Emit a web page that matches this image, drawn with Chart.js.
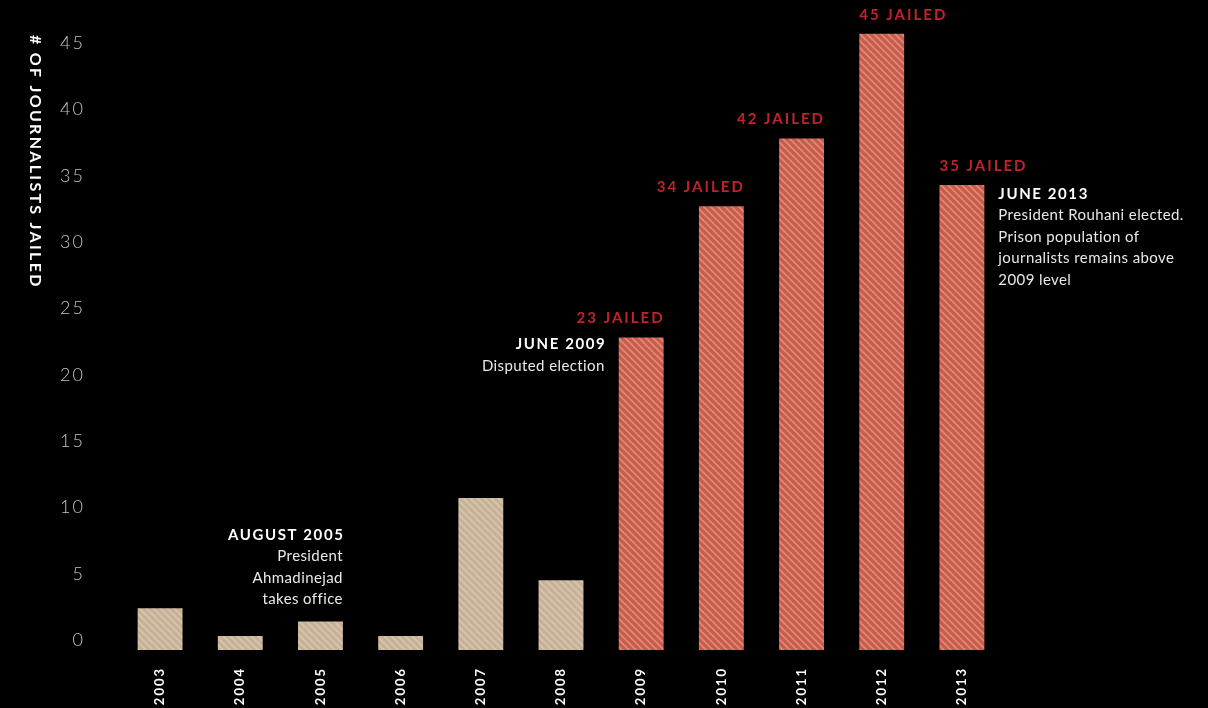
<!DOCTYPE html>
<html>
<head>
<meta charset="utf-8">
<script src="https://cdn.jsdelivr.net/npm/chart.js@4.4.1/dist/chart.umd.min.js"></script>
<style>
  html, body { margin: 0; padding: 0; background: #000; }
  #wrap { width: 1208px; height: 708px; position: relative; }
</style>
</head>
<body>
<div id="wrap"><canvas id="c" width="1208" height="708"></canvas></div>
<script>
// ---- data ----
const years = ['2003','2004','2005','2006','2007','2008','2009','2010','2011','2012','2013'];
const jailed = [2.4, 0.3, 1.4, 0.3, 10.7, 4.5, 22.8, 32.7, 37.8, 45.7, 34.3];
const era = ['before','before','before','before','before','before','after','after','after','after','after'];
const jailedLabels = [null, null, null, null, null, null, '23 JAILED', '34 JAILED', '42 JAILED', '45 JAILED', '35 JAILED'];
const yTicks = [0, 5, 10, 15, 20, 25, 30, 35, 40, 45];
const yTitle = '# OF JOURNALISTS JAILED';
const noteYears = ['2005', '2009', '2013'];
const noteTitles = ['AUGUST 2005', 'JUNE 2009', 'JUNE 2013'];
const noteLines = [
  ['President', 'Ahmadinejad', 'takes office'],
  ['Disputed election'],
  ['President Rouhani elected.', 'Prison population of', 'journalists remains above', '2009 level']
];

// ---- styles ----
const FONT = 'Lato, "Open Sans", sans-serif';
function makePattern(base, stripe) {
  const s = 7;
  const c = document.createElement('canvas');
  c.width = s; c.height = s;
  const g = c.getContext('2d');
  g.fillStyle = base; g.fillRect(0, 0, s, s);
  g.strokeStyle = stripe; g.lineWidth = 1.6;
  g.beginPath();
  g.moveTo(-1, -1); g.lineTo(s + 1, s + 1);
  g.moveTo(-1, s - 1); g.lineTo(1, s + 1);
  g.moveTo(s - 1, -1); g.lineTo(s + 1, 1);
  g.stroke();
  return document.getElementById('c').getContext('2d').createPattern(c, 'repeat');
}
const tanPattern = makePattern('#c7b197', '#d8c6b0');
const redPattern = makePattern('#c75e4c', '#e2897a');
const barColors = era.map(e => e === 'before' ? tanPattern : redPattern);

const bgPlugin = {
  id: 'bg',
  beforeDraw(chart) {
    const ctx = chart.ctx;
    ctx.save();
    ctx.fillStyle = '#000';
    ctx.fillRect(0, 0, chart.width, chart.height);
    ctx.restore();
  }
};

const annotPlugin = {
  id: 'annot',
  afterDraw(chart) {
    const ctx = chart.ctx;
    const meta = chart.getDatasetMeta(0);
    ctx.save();
    // y-axis title, rotated clockwise, reading top to bottom
    ctx.save();
    ctx.translate(35, 35);
    ctx.rotate(Math.PI / 2);
    ctx.fillStyle = '#ffffff';
    ctx.font = 'bold 16px ' + FONT;
    ctx.letterSpacing = '2.3px';
    ctx.textAlign = 'left';
    ctx.textBaseline = 'middle';
    ctx.fillText(yTitle, 0, 0);
    ctx.restore();

    // "N JAILED" labels
    ctx.font = 'bold 15px ' + FONT;
    ctx.letterSpacing = '2px';
    ctx.fillStyle = '#c1222b';
    ctx.textBaseline = 'middle';
    jailedLabels.forEach((t, i) => {
      if (!t) return;
      const bar = meta.data[i];
      const half = bar.width / 2;
      const y = bar.y - 19;
      if (i >= 9) {
        ctx.textAlign = 'left';
        ctx.fillText(t, bar.x - half, y);
      } else {
        ctx.textAlign = 'right';
        ctx.fillText(t, bar.x + half + 1, y);
      }
    });

    // notes
    noteYears.forEach((yr, k) => {
      const i = years.indexOf(yr);
      const bar = meta.data[i];
      const half = bar.width / 2;
      const lines = noteLines[k];
      const lh = 21.5;
      let x, y0, align;
      if (k === 0) {
        align = 'right'; x = bar.x + half;
        y0 = bar.y - 22 - lh * lines.length;
      } else if (k === 1) {
        align = 'right'; x = bar.x - half - 14;
        y0 = bar.y + 7;
      } else {
        align = 'left'; x = bar.x + half + 14;
        y0 = bar.y + 9;
      }
      ctx.textAlign = align;
      ctx.fillStyle = '#ffffff';
      ctx.font = 'bold 15px ' + FONT;
      ctx.letterSpacing = '1.6px';
      ctx.fillText(noteTitles[k], x + (align === 'right' ? 1.6 : 0), y0);
      ctx.font = '15px ' + FONT;
      ctx.letterSpacing = '0.4px';
      ctx.fillStyle = '#e8e8e8';
      lines.forEach((ln, j) => ctx.fillText(ln, x, y0 + lh * (j + 1)));
    });
    ctx.restore();
  }
};

const xTickSpacing = {
  id: 'xTickSpacing',
  beforeDraw(chart) { chart.ctx.letterSpacing = '2px'; },
  beforeDatasetsDraw(chart) { chart.ctx.letterSpacing = '0px'; }
};

new Chart(document.getElementById('c'), {
  type: 'bar',
  data: {
    labels: years,
    datasets: [{
      data: jailed,
      backgroundColor: barColors,
      borderWidth: 0,
      base: -0.75,
      barPercentage: 0.8,
      categoryPercentage: 0.7
    }]
  },
  options: {
    responsive: false,
    animation: false,
    devicePixelRatio: 1,
    layout: { padding: { top: 16.5, right: 206, left: 0, bottom: 0 } },
    plugins: { legend: { display: false }, tooltip: { enabled: false } },
    scales: {
      x: {
        grid: { display: false, drawTicks: false },
        border: { display: false },
        ticks: {
          color: '#ffffff',
          font: { family: FONT, size: 13, weight: 'bold' },
          minRotation: 90, maxRotation: 90,
          padding: 17
        },
        afterFit(scale) {
          scale.height = 58;
          scale.paddingTop = 0; scale.paddingBottom = 0;
          scale.paddingLeft = 0; scale.paddingRight = 0;
        }
      },
      y: {
        min: -0.75,
        max: 47,
        grid: { display: false, drawTicks: false },
        border: { display: false },
        afterBuildTicks(scale) { scale.ticks = yTicks.map(v => ({ value: v })); },
        ticks: {
          color: '#c4c4c4',
          font: { family: FONT, size: 18, weight: '300' },
          padding: 35
        },
        afterFit(scale) {
          scale.width = 120;
          scale.paddingTop = 0; scale.paddingBottom = 0;
        }
      }
    }
  },
  plugins: [bgPlugin, xTickSpacing, annotPlugin]
});
</script>
</body>
</html>
